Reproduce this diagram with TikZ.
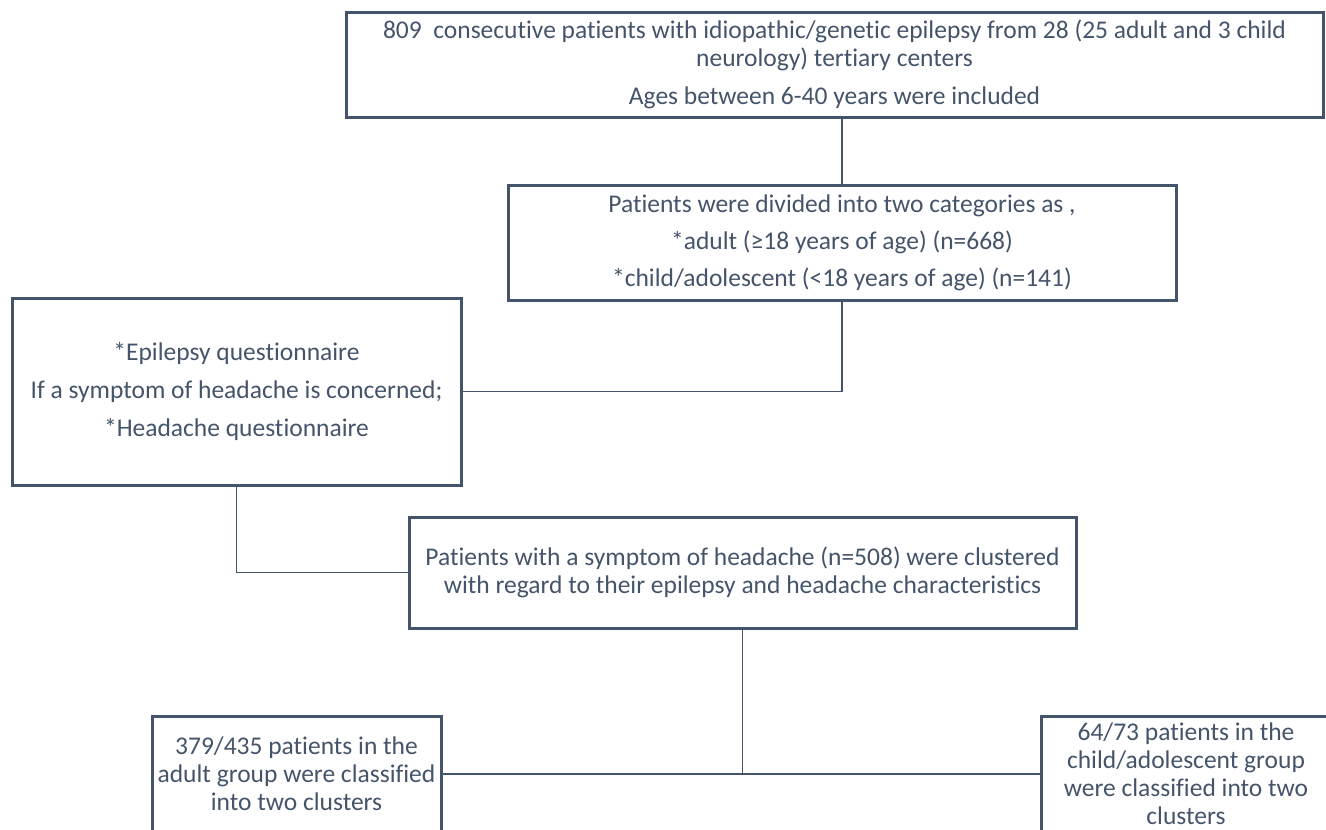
\documentclass[tikz,border=0pt]{standalone}
\usepackage{fontspec}
\setmainfont{Carlito}[Ligatures=NoCommon]
\usetikzlibrary{positioning}
\definecolor{pizarra}{HTML}{44546A}

\begin{document}
\begin{tikzpicture}[x=1pt,y=-1pt,
    caja/.style={draw=pizarra,line width=3pt,text=pizarra,align=center,
        inner sep=0pt,font=\fontsize{25.5}{28}\selectfont},
    linea/.style={draw=pizarra,line width=1.5pt}]
        \useasboundingbox (0,0) rectangle (1326,830);
        \clip (0,0) rectangle (1326,830);
        % Cajas
        \node[caja,minimum width=977pt,minimum height=105pt] (total) at (834.5,64.5)
            {809~ consecutive patients with idiopathic/genetic epilepsy from 28 (25 adult and 3 child\\
             neurology) tertiary centers\\[10pt] Ages between 6-40 years were included};
        \node[caja,minimum width=668pt,minimum height=115pt] (grupos) at (842,242.5)
            {Patients were divided into two categories as ,\\[9pt]
             *adult (≥18 years of age) (n=668)\\[9pt]
             *child/adolescent (<18 years of age) (n=141)};
        \node[caja,minimum width=449pt,minimum height=187pt] (cuestion) at (236.5,391.5)
            {*Epilepsy questionnaire\\[10pt] If a symptom of headache is concerned;\\[10pt]
             *Headache questionnaire};
        \node[caja,minimum width=667pt,minimum height=111pt] (cefalea) at (742.5,572.5)
            {Patients with a symptom of headache (n=508) were clustered\\
             with regard to their epilepsy and headache characteristics};
        \node[caja,minimum width=289pt,minimum height=116pt] (adulto) at (296.5,774)
            {379/435 patients in the\\ adult group were classified\\ into two clusters};
        \node[caja,minimum width=290pt,minimum height=116pt] (nino) at (1186,774)
            {64/73 patients in the\\ child/adolescent group\\ were classified into two\\ clusters};
        % Conectores
        \draw[linea] (grupos.north) -- (grupos.north |- total.south);
        \draw[linea] (grupos.south) |- (cuestion.east);
        \draw[linea] (cuestion.south) |- (cefalea.west);
        \draw[linea] (cefalea.south) -- (cefalea.south |- adulto.east);
        \draw[linea] (adulto.east) -- (nino.west);
    \end{tikzpicture}
\end{document}
